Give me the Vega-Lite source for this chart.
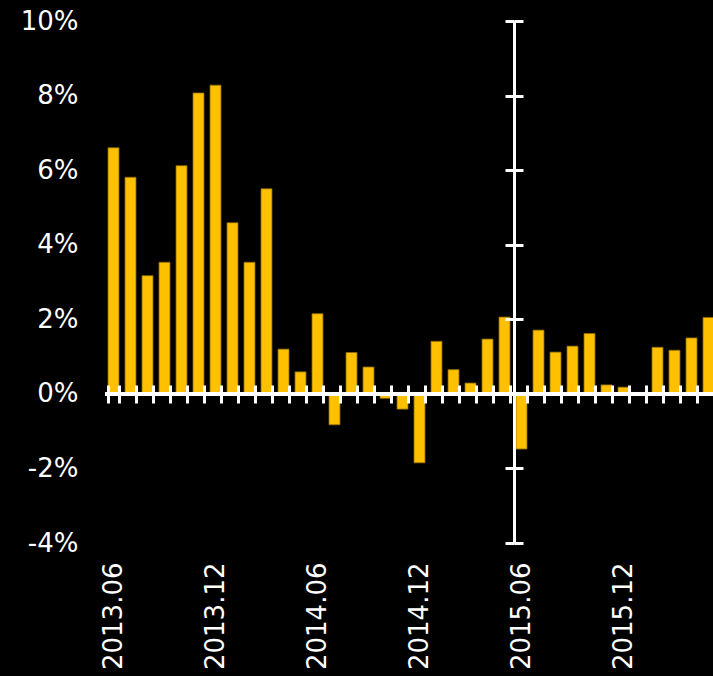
{
  "$schema": "https://vega.github.io/schema/vega-lite/v6.json",
  "autosize": {"type": "none"},
  "width": 608,
  "height": 522,
  "padding": {"left": 105, "top": 21, "right": 0, "bottom": 133},
  "background": "black",
  "config": {"view": {"stroke": null}, "font": "DejaVu Sans"},
  "data": {"values": [
    {"m": "2013.06", "v": 6.60}, {"m": "2013.07", "v": 5.81}, {"m": "2013.08", "v": 3.17},
    {"m": "2013.09", "v": 3.53}, {"m": "2013.10", "v": 6.12}, {"m": "2013.11", "v": 8.07},
    {"m": "2013.12", "v": 8.28}, {"m": "2014.01", "v": 4.59}, {"m": "2014.02", "v": 3.53},
    {"m": "2014.03", "v": 5.50}, {"m": "2014.04", "v": 1.20}, {"m": "2014.05", "v": 0.59},
    {"m": "2014.06", "v": 2.15}, {"m": "2014.07", "v": -0.83}, {"m": "2014.08", "v": 1.11},
    {"m": "2014.09", "v": 0.72}, {"m": "2014.10", "v": -0.12}, {"m": "2014.11", "v": -0.41},
    {"m": "2014.12", "v": -1.85}, {"m": "2015.01", "v": 1.41}, {"m": "2015.02", "v": 0.65},
    {"m": "2015.03", "v": 0.29}, {"m": "2015.04", "v": 1.47}, {"m": "2015.05", "v": 2.06},
    {"m": "2015.06", "v": -1.48}, {"m": "2015.07", "v": 1.71}, {"m": "2015.08", "v": 1.12},
    {"m": "2015.09", "v": 1.28}, {"m": "2015.10", "v": 1.62}, {"m": "2015.11", "v": 0.24},
    {"m": "2015.12", "v": 0.18}, {"m": "2016.01", "v": 0}, {"m": "2016.02", "v": 1.25},
    {"m": "2016.03", "v": 1.17}, {"m": "2016.04", "v": 1.50}, {"m": "2016.05", "v": 2.05}
  ]},
  "layer": [
    {
      "mark": {"type": "bar", "color": "#FFC000", "stroke": "#8a6a00", "strokeWidth": 0.8},
      "encoding": {
        "x": {
          "field": "m", "type": "ordinal", "sort": null,
          "scale": {"range": [0, 612], "paddingInner": 0.353, "paddingOuter": 0.1765},
          "axis": {
            "title": null, "orient": "bottom", "offset": -158, "domain": false,
            "tickBand": "extent", "tickSize": 18, "tickWidth": 3, "tickColor": "white",
            "labelAngle": -90, "labelPadding": 159, "labelFontSize": 26, "labelColor": "white",
            "labelFont": "DejaVu Sans", "labelOverlap": false,
            "labelExpr": "(slice(datum.label, 5) == '06' || slice(datum.label, 5) == '12') ? datum.label : ''",
            "zindex": 1
          }
        },
        "y": {
          "field": "v", "type": "quantitative",
          "scale": {"domain": [-4, 10], "nice": false, "zero": false},
          "axis": {
            "title": null, "orient": "left", "offset": -409, "domain": false, "grid": false,
            "values": [-4, -2, 0, 2, 4, 6, 8, 10],
            "tickSize": 9, "tickWidth": 3, "tickColor": "white",
            "labelPadding": 427, "labelFontSize": 26, "labelColor": "white",
            "labelFont": "DejaVu Sans", "labelExpr": "datum.value + '%'", "zindex": 1
          }
        }
      }
    },
    {
      "mark": {"type": "rule", "color": "white", "strokeWidth": 3.5},
      "encoding": {
        "y": {
          "datum": 0, "type": "quantitative",
          "axis": {
            "title": null, "orient": "right", "offset": -199, "domain": true,
            "domainColor": "white", "domainWidth": 3, "grid": false,
            "values": [-4, -2, 0, 2, 4, 6, 8, 10],
            "tickSize": 9, "tickWidth": 3, "tickColor": "white",
            "labels": false, "zindex": 1
          }
        }
      }
    }
  ],
  "resolve": {"axis": {"y": "independent"}}
}
